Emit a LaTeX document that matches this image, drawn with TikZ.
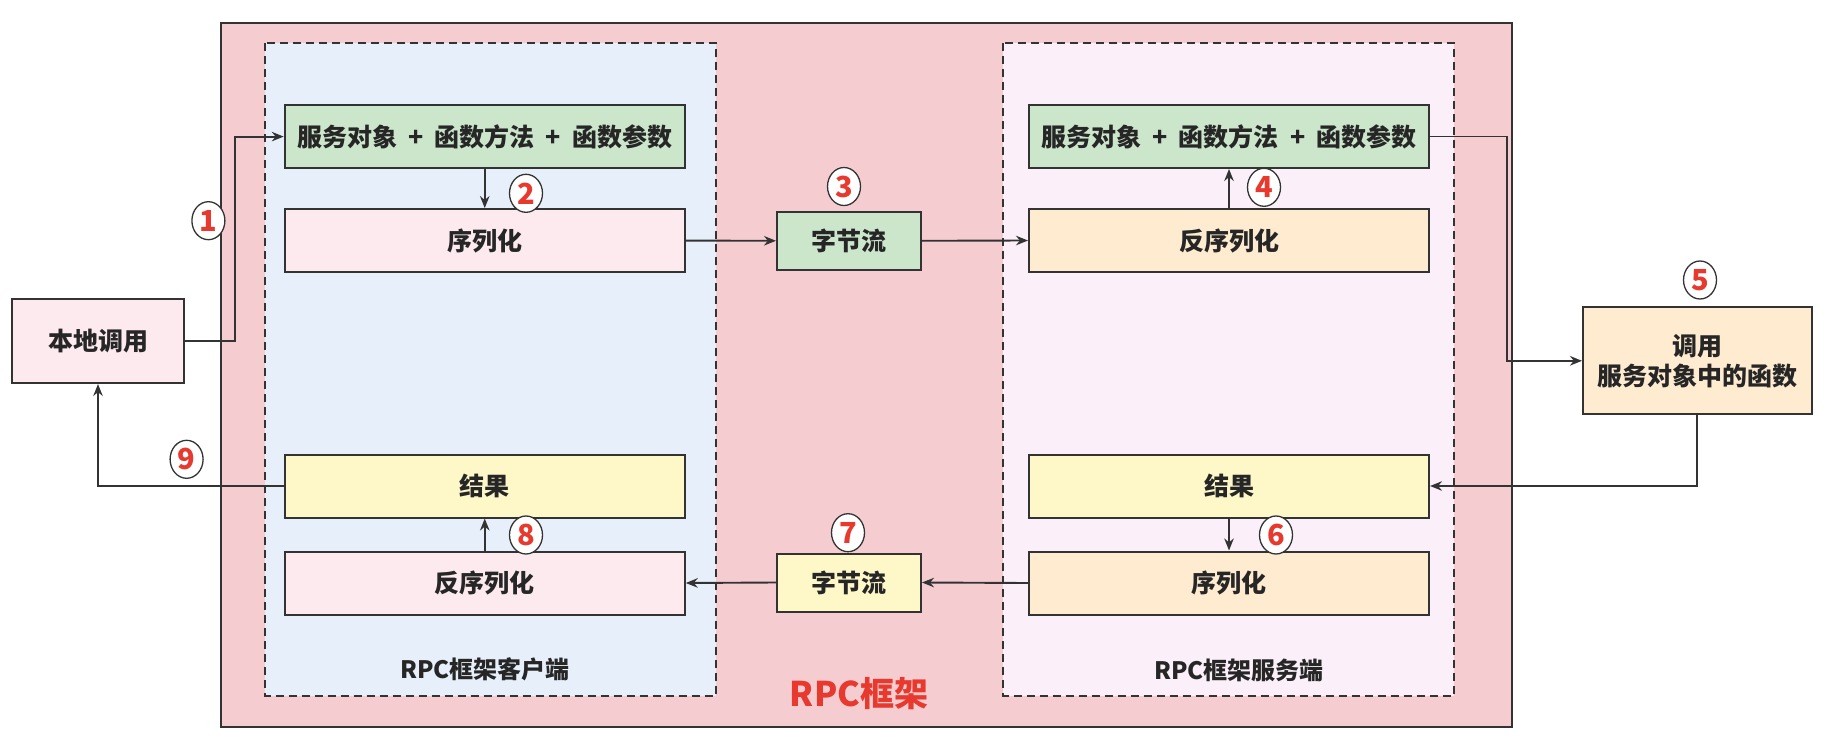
\documentclass[tikz,border=0pt]{standalone}
\usepackage{fontspec}
\setmainfont{Noto Sans CJK SC}
\usetikzlibrary{arrows.meta,shapes.geometric}
\definecolor{edge}{HTML}{333333}
\definecolor{outerfill}{HTML}{F5CDD0}
\definecolor{clientfill}{HTML}{E7F0FA}
\definecolor{serverfill}{HTML}{FBF0FA}
\definecolor{greenfill}{HTML}{CCE6CC}
\definecolor{pinkfill}{HTML}{FCEAEE}
\definecolor{orangefill}{HTML}{FEEBD0}
\definecolor{yellowfill}{HTML}{FEF8C8}
\definecolor{numred}{HTML}{E8392F}
\begin{document}
\begin{tikzpicture}[x=1pt,y=-1pt,
  box/.style={draw=edge, line width=2pt, minimum height=63pt, inner sep=0pt,
    font=\fontsize{25}{30}\selectfont\bfseries, text=black!85},
  widebox/.style={box, minimum width=400pt},
  flow/.style={draw=edge, line width=1.9pt, -{Stealth[length=12pt,width=9.5pt]}},
  badge/.style={ellipse, draw=edge, fill=white, line width=1.3pt,
    minimum width=33pt, minimum height=38pt, inner sep=0pt, text=numred,
    font=\fontsize{29}{29}\selectfont\bfseries},
  region/.style={draw=edge, dash pattern=on 8pt off 5pt, line width=1.6pt},
  caption/.style={font=\fontsize{24}{28}\selectfont\bfseries, text=black!85}]
\useasboundingbox (0,0) rectangle (1825,738);

% framework and its two halves
\draw[fill=outerfill, draw=edge, line width=2pt] (220.5,23.3) rectangle (1512,726.7);
\draw[region, fill=clientfill] (265,43.3) rectangle (716,695.7);
\draw[region, fill=serverfill] (1003,43.3) rectangle (1454,695.7);

\node[caption] (clientlbl) at (485,669) {RPC框架客户端};
\node[caption] (serverlbl) at (1239,670) {RPC框架服务端};
\node[font=\fontsize{34}{40}\selectfont\bfseries, text=numred] (framelbl) at (859,694) {RPC框架};

% caller and callee outside the framework
\node[box, fill=pinkfill, minimum width=172pt, minimum height=84pt] (local) at (98,341) {本地调用};
\node[box, fill=orangefill, minimum width=228.6pt, minimum height=107pt, align=center] (call) at (1697.3,360.8) {调用\\服务对象中的函数};

% client side
\node[widebox, fill=greenfill] (cgreen) at (484.75,136.6) {服务对象\hspace{0.45em}+\hspace{0.45em}函数方法\hspace{0.45em}+\hspace{0.45em}函数参数};
\node[widebox, fill=pinkfill] (cser) at (484.75,240.6) {序列化};
\node[widebox, fill=yellowfill] (cres) at (484.75,486) {结果};
\node[widebox, fill=pinkfill] (cdeser) at (484.75,583) {反序列化};

% byte streams in transit
\node[box, fill=greenfill, minimum width=144pt, minimum height=58pt] (bytes1) at (849,240.8) {字节流};
\node[box, fill=yellowfill, minimum width=144pt, minimum height=58pt] (bytes2) at (849,582.5) {字节流};

% server side
\node[widebox, fill=greenfill] (sgreen) at (1229,136.5) {服务对象\hspace{0.45em}+\hspace{0.45em}函数方法\hspace{0.45em}+\hspace{0.45em}函数参数};
\node[widebox, fill=orangefill] (sdeser) at (1229,240.5) {反序列化};
\node[widebox, fill=yellowfill] (sres) at (1229,486) {结果};
\node[widebox, fill=orangefill] (sser) at (1229,583) {序列化};

% request path
\draw[flow] (local.east) -- ++(50,0) |- (cgreen.west);
\draw[flow] (cgreen.south) -- (cser.north);
\draw[flow] (cser.east) -- (bytes1.west);
\draw[flow] (bytes1.east) -- (sdeser.west);
\draw[flow] (sdeser.north) -- (sgreen.south);
\draw[flow] (sgreen.east) -- ++(77,0) |- (call.west);

% response path
\draw[flow] (call.south) |- (sres.east);
\draw[flow] (sres.south) -- (sser.north);
\draw[flow] (sser.west) -- (bytes2.east);
\draw[flow] (bytes2.west) -- (cdeser.east);
\draw[flow] (cdeser.north) -- (cres.south);
\draw[flow] (cres.west) -| (local.south);

% step numbers
\node[badge] (n1) at (208.4,220.7) {1};
\node[badge] (n2) at (526,193.3) {2};
\node[badge] (n3) at (844,186.5) {3};
\node[badge] (n4) at (1264,187.3) {4};
\node[badge] (n5) at (1700,280) {5};
\node[badge] (n6) at (1276,535) {6};
\node[badge] (n7) at (848,532.7) {7};
\node[badge] (n8) at (526,535) {8};
\node[badge] (n9) at (186.6,459.3) {9};
\end{tikzpicture}
\end{document}
